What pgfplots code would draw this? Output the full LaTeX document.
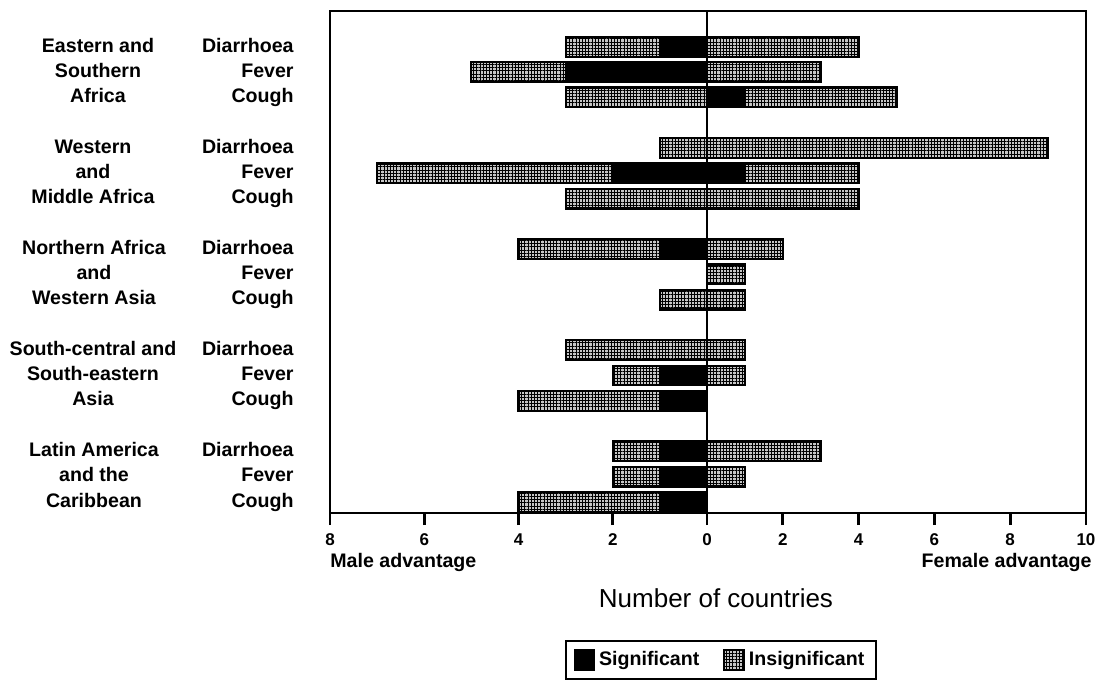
\documentclass[border=0pt]{standalone}
\usepackage{pgfplots}
\pgfplotsset{compat=1.18}
\usepackage{fontspec}
\setmainfont{Liberation Sans}
\usetikzlibrary{patterns.meta}

\tikzset{
  sig/.style={draw=black, line width=1.1pt, fill=black},
  ins/.style={draw=black, line width=1.1pt, preaction={fill=gray!45},
    pattern={Hatch[distance=1.6pt, angle=0, line width=0.35pt]}, pattern color=black},
  lab/.style={font=\fontsize{9.8}{12}\selectfont\bfseries, text height=7.2pt, text depth=2pt, inner sep=0pt},
  lab2/.style={font=\fontsize{9.8}{12}\selectfont\bfseries, inner sep=0pt},
}
\pgfplotsset{common/.style={
  scale only axis, height=251pt, y dir=reverse, ymin=-1.42, ymax=18.44,
  xbar, bar width=0.78, bar shift=0pt,
  axis line style={line width=1.4pt},
  tick align=outside, major tick length=6pt,
  xtick pos=left, ytick pos=left,
  every tick/.style={black, line width=1.4pt},
  xticklabel style={font=\fontsize{8.5}{10}\selectfont\bfseries, inner sep=0pt, yshift=-4pt},
  clip=false,
}}

\begin{document}
\begin{tikzpicture}
\useasboundingbox (-165pt,-84.5pt) rectangle (384pt,256.5pt);

\begin{axis}[common, name=L, at={(0,0)}, anchor=south west, width=188.5pt,
  xmin=-8, xmax=0, xtick={-8,-6,-4,-2,0}, xticklabels={8,6,4,2,0},
  ytick={0,1,2,4,5,6,8,9,10,12,13,14,16,17,18},
  yticklabels={Diarrhoea,Fever,Cough,Diarrhoea,Fever,Cough,Diarrhoea,Fever,Cough,Diarrhoea,Fever,Cough,Diarrhoea,Fever,Cough},
  yticklabel style={lab, anchor=east, xshift=-12pt},
  y tick style={draw=none}]
\addplot[ins] coordinates {(-3,0) (-5,1) (-3,2) (-1,4) (-7,5) (-3,6) (-4,8) (-1,10) (-3,12) (-2,13) (-4,14) (-2,16) (-2,17) (-4,18)};
\addplot[sig] coordinates {(-1,0) (-3,1) (-2,5) (-1,8) (-1,13) (-1,14) (-1,16) (-1,17) (-1,18)};
\node[lab] at ([xshift=-116pt]axis cs:-8,0) {Eastern and};
\node[lab] at ([xshift=-116pt]axis cs:-8,1) {Southern};
\node[lab] at ([xshift=-116pt]axis cs:-8,2) {Africa};
\node[lab] at ([xshift=-118.5pt]axis cs:-8,4) {Western};
\node[lab] at ([xshift=-118.5pt]axis cs:-8,5) {and};
\node[lab] at ([xshift=-118.5pt]axis cs:-8,6) {Middle Africa};
\node[lab] at ([xshift=-118pt]axis cs:-8,8) {Northern Africa};
\node[lab] at ([xshift=-118pt]axis cs:-8,9) {and};
\node[lab] at ([xshift=-118pt]axis cs:-8,10) {Western Asia};
\node[lab] at ([xshift=-118.5pt]axis cs:-8,12) {South-central and};
\node[lab] at ([xshift=-118.5pt]axis cs:-8,13) {South-eastern};
\node[lab] at ([xshift=-118.5pt]axis cs:-8,14) {Asia};
\node[lab] at ([xshift=-118pt]axis cs:-8,16) {Latin America};
\node[lab] at ([xshift=-118pt]axis cs:-8,17) {and the};
\node[lab] at ([xshift=-118pt]axis cs:-8,18) {Caribbean};
\end{axis}

\begin{axis}[common, name=R, at={(L.south east)}, anchor=south west, width=189.5pt,
  xmin=0, xmax=10, xtick={2,4,6,8,10}, xticklabels={2,4,6,8,10}, ytick=\empty,
  legend style={at={(0.0369,-0.2928)}, anchor=center, draw=black, line width=1pt,
    font=\fontsize{9.8}{12}\selectfont\bfseries, legend columns=2,
    /tikz/every even column/.append style={column sep=10pt},
    inner xsep=4pt, inner ysep=3pt},
  legend image code/.code={\draw[#1, line width=0.8pt] (0pt,-5pt) rectangle (10pt,5pt);}]
\addlegendimage{sig}\addlegendentry{Significant}
\addlegendimage{ins}\addlegendentry{Insignificant}
\addplot[ins, forget plot] coordinates {(4,0) (3,1) (5,2) (9,4) (4,5) (4,6) (2,8) (1,9) (1,10) (1,12) (1,13) (3,16) (1,17)};
\addplot[sig, forget plot] coordinates {(1,2) (1,5)};
\end{axis}

\node[lab2, anchor=north west] at ([yshift=-20pt]L.south west) {Male advantage};
\node[lab2, anchor=north east] at ([xshift=3pt,yshift=-20pt]R.south east) {Female advantage};
\node[font=\fontsize{13}{15}\selectfont, anchor=center] at ([xshift=4.5pt,yshift=-42.5pt]L.south east) {Number of countries};
\end{tikzpicture}
\end{document}
